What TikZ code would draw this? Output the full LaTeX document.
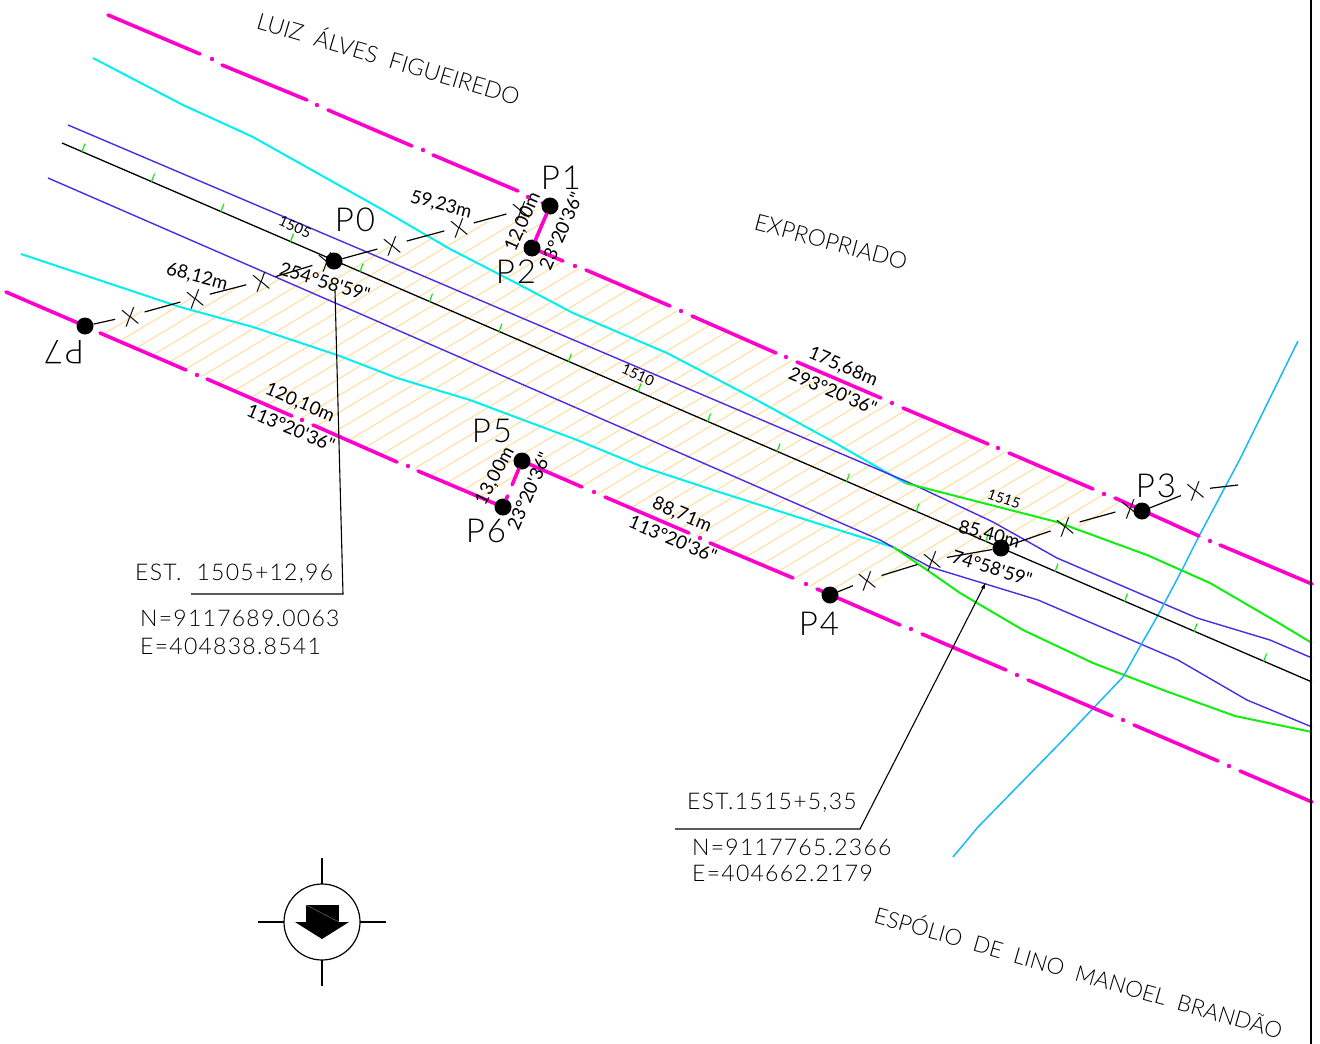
\documentclass[tikz,border=0pt]{standalone}
\usepackage{fontspec}
\setmainfont{Lato}[UprightFont=* Light]
\newfontfamily\widefont[LetterSpace=5.5]{Lato}[UprightFont=* Light]
\newfontfamily\dimfont{Lato}
\usetikzlibrary{arrows.meta,calc}

\definecolor{limitpink}{HTML}{FF00CC}
\definecolor{roadcyan}{HTML}{00F0F0}
\definecolor{offsetblue}{HTML}{4A2BE6}
\definecolor{cutgreen}{HTML}{10EE10}
\definecolor{creekblue}{HTML}{18B8F8}
\definecolor{hatchtan}{HTML}{FFDD99}

\tikzset{
    limitline/.style={limitpink,line width=3.6pt,line cap=round},
    stakemark/.style={circle,fill=black,inner sep=0pt,minimum size=17pt},
    fencemark/.style={circle,inner sep=0pt,minimum size=30pt,text height=19pt,text depth=0pt,rotate=15,font=\fontsize{24}{24}\selectfont},
    fenceline/.style={line width=1.2pt},
    leaderline/.style={line width=1.1pt},
    ptname/.style={inner sep=0pt,font=\widefont\fontsize{33}{33}\selectfont},
    distlabel/.style={inner sep=0pt,font=\dimfont\fontsize{18.5}{18.5}\selectfont},
    smalllabel/.style={inner sep=0pt,font=\dimfont\fontsize{14.5}{14.5}\selectfont},
    ownerlabel/.style={inner sep=0pt,font=\fontsize{23}{23}\selectfont},
    coordlabel/.style={inner sep=0pt,anchor=west,font=\widefont\fontsize{23}{23}\selectfont}
}

\begin{document}
\begin{tikzpicture}[x=1pt,y=-1pt]
    \useasboundingbox (0,0) rectangle (1320,1044);

    % Hatched strip
    \begin{scope}
        \clip (85,326) -- (334,261) -- (550,206) -- (532,248) -- (1142,511) -- (1001,548)
            -- (830,595) -- (522,461) -- (503,507) -- cycle;
        \foreach \hc in {379.2,396.1,...,1200}
            \draw[hatchtan,line width=1pt] (0,\hc) -- (1320,\hc-792);
    \end{scope}

    % Road edges
    \draw[roadcyan,line width=2pt] (93,58) -- (183,105) -- (253,137) -- (383,210) -- (450,249)
        -- (520,285) -- (573,313) -- (667,353) -- (753,398) -- (830,440) -- (905,483);
    \draw[roadcyan,line width=2pt] (21,254) -- (180,307) -- (253,327) -- (337,355) -- (397,378)
        -- (470,400) -- (510,415) -- (577,440) -- (643,467) -- (713,490) -- (813,522) -- (893,547);

    % Offset lines
    \draw[offsetblue,line width=1.4pt] (68,125) -- (910,483) -- (993,522) -- (1057,558)
        -- (1197,618) -- (1270,640) -- (1312,658);
    \draw[offsetblue,line width=1.4pt] (48,178) -- (880,540) -- (930,567) -- (1038,600)
        -- (1178,660) -- (1247,700) -- (1312,727);

    % Cut slopes
    \draw[cutgreen,line width=2pt] (905,483) -- (1057,522) -- (1147,555) -- (1210,583)
        -- (1277,622) -- (1312,643);
    \draw[cutgreen,line width=2pt] (893,547) -- (930,572) -- (960,593) -- (1023,630)
        -- (1093,663) -- (1163,690) -- (1235,716) -- (1312,732);

    % Creek
    \draw[creekblue,line width=1.5pt] (1298,341) -- (1240,459) -- (1198,538) -- (1182,570)
        -- (1157,617) -- (1142,643) -- (1123,677) -- (1063,740) -- (978,827) -- (953,857);

    % Axis and station ticks
    \draw[line width=1.3pt] (62,143) -- (1312,682);
    \foreach \tk in {0,...,17}
        \draw[cutgreen,line width=1.2pt] (82+69.5*\tk,151.6+30*\tk) -- ++(3,-8);

    % Limit of the right of way
    \foreach \ax/\ay/\bx/\by in {108/15/200/54,222/65/307/100,328/110/412/146,433/155/518/191,
        542/203/550/206,532/248/563/261,586/270/670/306,692/316/776/353,797/362/881/398,
        903/408/988/444,1009/453/1093/489,1115/498/1199/536,1220/545/1312/584,
        6/292/85/326,100/333/186/370,207/379/292/416,313/425/397/462,418/471/503/507,
        522/461/582/487,605/497/689/533,710/543/793/578,817/589/900/625,922/634/1006/670,
        1028/680/1112/716,1134/725/1218/761,1240/771/1312/802}
        \draw[limitline] (\ax,\ay) -- (\bx,\by);
    \foreach \dx/\dy in {212/59,317/105,423/150,528/197,575/266,681/311,786/357,892/403,
        998/448,1104/494,1210/541,197/375,302/420,408/466,594/492,700/538,806/584,
        911/629,1017/675,1123/720,1229/766}
        \fill[limitpink] (\dx,\dy) circle (2.2pt);

    % Frame
    \draw[line width=2.5pt] (1311,0) -- (1311,1044);

    % Points
    \node[stakemark] (P0) at (334,261) {};
    \node[stakemark] (P1) at (550,206) {};
    \node[stakemark] (P2) at (532,248) {};
    \node[stakemark] (P3) at (1142,511) {};
    \node[stakemark] (P4) at (830,595) {};
    \node[stakemark] (P5) at (522,461) {};
    \node[stakemark] (P6) at (503,507) {};
    \node[stakemark] (P7) at (85,326) {};
    \node[stakemark] (Pm) at (1001,548) {};
    \draw[limitline] (P1) -- (P2);
    \draw[limitline,dash pattern=on 17pt off 12pt on 6pt off 30pt] (P5) -- (P6);

    % Fence marks
    \node[fencemark] (xa) at (130,316) {X};
    \node[fencemark] (xb) at (195,298) {X};
    \node[fencemark] (xc) at (261,281) {X};
    \node[fencemark] (xd) at (327,261) {X};
    \node[fencemark] (xe) at (392,245) {X};
    \node[fencemark] (xf) at (459,227) {X};
    \node[fencemark] (xg) at (521,210) {X};
    \node[fencemark] (xh) at (867,580) {X};
    \node[fencemark] (xi) at (932,560) {X};
    \node[fencemark] (xj) at (1065,526) {X};
    \node[fencemark] (xk) at (1130,508) {X};
    \node[fencemark] (xl) at (1195,490) {X};
    \coordinate (fenceend) at (1238,485);
    \draw[fenceline] (P7) -- (xa);
    \draw[fenceline] (xa) -- (xb);
    \draw[fenceline] (xb) -- (xc);
    \draw[fenceline] (xc) -- (xd);
    \draw[fenceline] (P0) -- (xe);
    \draw[fenceline] (xe) -- (xf);
    \draw[fenceline] (xf) -- (xg);
    \draw[fenceline] (P4) -- (xh);
    \draw[fenceline] (xh) -- (xi);
    \draw[fenceline] (xi) -- (Pm);
    \draw[fenceline] (Pm) -- (xj);
    \draw[fenceline] (xj) -- (xk);
    \draw[fenceline] (P3) -- (xl);
    \draw[fenceline] (xl) -- (fenceend);

    % Point names
    \node[ptname] (nameP0) at (355,220) {P0};
    \node[ptname] (nameP1) at (561,178) {P1};
    \node[ptname] (nameP2) at (516,272) {P2};
    \node[ptname] (nameP3) at (1156,486) {P3};
    \node[ptname] (nameP4) at (819,624) {P4};
    \node[ptname] (nameP5) at (492,431) {P5};
    \node[ptname] (nameP6) at (486,531) {P6};
    \node[ptname,rotate=180] (nameP7) at (64,352) {P7};

    % Distances and bearings
    \node[distlabel,rotate=-15] (dist1) at (441,205) {59,23m};
    \node[distlabel,rotate=-15] (dist2) at (197,277) {68,12m};
    \node[distlabel,rotate=66] (dist3) at (523,222) {12,00m};
    \node[distlabel,rotate=66] (brg1) at (561,231) {23°20'36"};
    \node[distlabel,rotate=-17] (brg2) at (325,282) {254°58'59"};
    \node[distlabel,rotate=-23] (dist4) at (843,367) {175,68m};
    \node[distlabel,rotate=-23] (brg3) at (833,391) {293°20'36"};
    \node[distlabel,rotate=-23] (dist5) at (300,403) {120,10m};
    \node[distlabel,rotate=-23] (brg4) at (291,428) {113°20'36"};
    \node[distlabel,rotate=-23] (dist6) at (682,515) {88,71m};
    \node[distlabel,rotate=-23] (brg5) at (673,539) {113°20'36"};
    \node[distlabel,rotate=62] (dist7) at (495,476) {13,00m};
    \node[distlabel,rotate=66] (brg6) at (529,491) {23°20'36"};
    \node[distlabel,rotate=-15] (dist8) at (989,535) {85,40m};
    \node[distlabel,rotate=-17] (brg7) at (992,568) {74°58'59"};

    % Station numbers
    \node[smalllabel,rotate=-24] (st1) at (295,227) {1505};
    \node[smalllabel,rotate=-24] (st2) at (638,375) {1510};
    \node[smalllabel,rotate=-19] (st3) at (1004,499) {1515};

    % Neighbours
    \node[ownerlabel,rotate=-16.5] (owner1) at (389,57) {LUIZ\ \ ÁLVES\ \ FIGUEIREDO};
    \node[ownerlabel,rotate=-15] (owner2) at (831,242) {EXPROPRIADO};
    \node[ownerlabel,rotate=-16,font=\fontsize{22.4}{22.4}\selectfont] (owner3) at (1079,971) {ESPÓLIO\ \ DE\ \ LINO\ \ MANOEL\ \ BRANDÃO};

    % Station callouts
    \coordinate (leadAa) at (335,291);
    \coordinate (leadAb) at (343,594);
    \coordinate (leadAc) at (191,594);
    \draw[leaderline] (leadAa) -- (leadAb) -- (leadAc);
    \node[coordlabel] (estA) at (135,574) {EST.\ \ 1505+12,96};
    \node[coordlabel] (northA) at (140,618) {N=9117689.0063};
    \node[coordlabel] (eastA) at (140,646) {E=404838.8541};

    \coordinate (leadBa) at (986,582);
    \coordinate (leadBb) at (953,647);
    \coordinate (leadBc) at (860,829);
    \coordinate (leadBd) at (675,829);
    \draw[leaderline,{Latex[length=7pt,width=4pt]}-] (leadBa) -- (leadBb) -- (leadBc) -- (leadBd);
    \node[coordlabel] (estB) at (687,803) {EST.1515+5,35};
    \node[coordlabel] (northB) at (692,847) {N=9117765.2366};
    \node[coordlabel] (eastB) at (692,873) {E=404662.2179};

    % North sign
    \draw[line width=1.2pt] (322,922) circle (38pt);
    \draw[line width=1.2pt] (322,858) -- (322,884);
    \draw[line width=1.2pt] (322,960) -- (322,986);
    \draw[line width=1.2pt] (258,922) -- (284,922);
    \draw[line width=1.2pt] (360,922) -- (386,922);
    \fill (306,905) rectangle (339,922);
    \fill (295,922) -- (349,922) -- (322,939) -- cycle;
    \draw[gray,line width=.4pt] (306,905) -- (339,922);
\end{tikzpicture}
\end{document}
